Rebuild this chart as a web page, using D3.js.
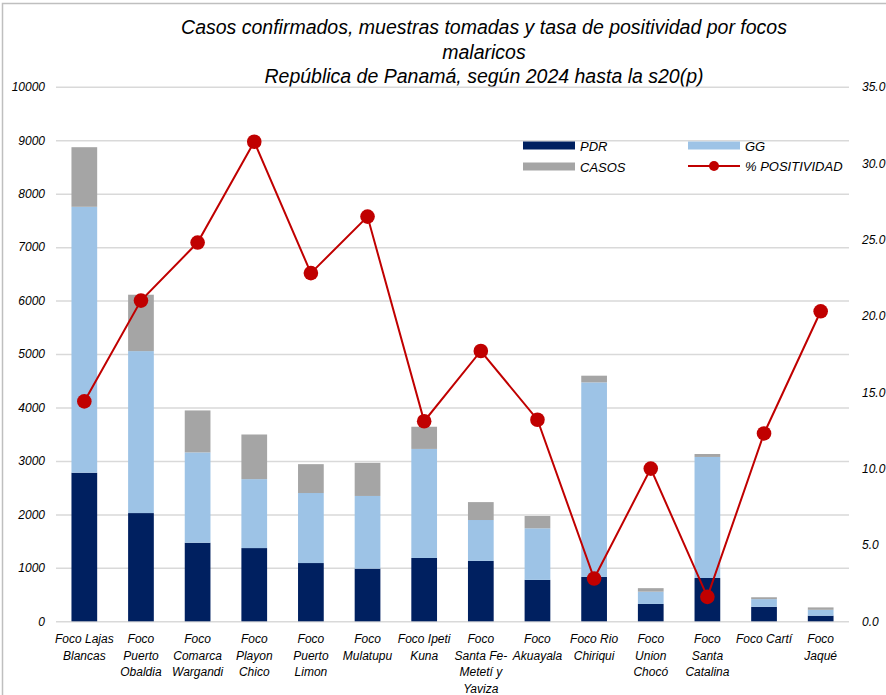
<!DOCTYPE html>
<html>
<head>
<meta charset="utf-8">
<script src="https://cdn.jsdelivr.net/npm/d3@7"></script>
<style>
  body { margin: 0; background: #fff; }
  text { font-family: "Liberation Sans", Arial, sans-serif; font-style: italic; fill: #000; }
</style>
</head>
<body>
<script>
// category labels (already wrapped like the original)
var focos = [
  ["Foco Lajas", "Blancas"],
  ["Foco", "Puerto", "Obaldia"],
  ["Foco", "Comarca", "Wargandi"],
  ["Foco", "Playon", "Chico"],
  ["Foco", "Puerto", "Limon"],
  ["Foco", "Mulatupu"],
  ["Foco Ipeti", "Kuna"],
  ["Foco", "Santa Fe-", "Metetí y", "Yaviza"],
  ["Foco", "Akuayala"],
  ["Foco Rio", "Chiriqui"],
  ["Foco", "Union", "Chocó"],
  ["Foco", "Santa", "Catalina"],
  ["Foco Cartí"],
  ["Foco", "Jaqué"]
];

var pdr   = [2780, 2025, 1470, 1370, 1090, 985, 1185, 1130, 775, 830, 325, 810, 270, 105];
var gg    = [4975, 3030, 1690, 1290, 1310, 1360, 2040, 765, 965, 3640, 230, 2265, 145, 110];
var casos = [1115, 1055, 785, 835, 540, 620, 415, 335, 230, 125, 65, 55, 35, 45];
var positividad = [14.4, 21.0, 24.8, 31.4, 22.8, 26.5, 13.1, 17.7, 13.2, 2.8, 10.0, 1.6, 12.3, 20.3];

var leftTicks = d3.range(0, 10001, 1000);
var rightTicks = d3.range(0, 35.1, 5);

var titleLines = [
  "Casos confirmados, muestras tomadas y  tasa de positividad por focos",
  "malaricos",
  "República de Panamá, según 2024 hasta la s20(p)"
];

// size of the picture
var w = 886;
var h = 695;
var plotLeft = 56, plotRight = 849, plotTop = 86.8, plotBottom = 621.3;

var svg = d3.select("body").append("svg").attr("width", w).attr("height", h);

// chart border (only top and left show)
svg.append("rect").attr("x", 2.5).attr("y", 3.5).attr("width", w + 10).attr("height", h + 10)
  .attr("fill", "none").attr("stroke", "#bfbfbf").attr("stroke-width", 1.5);

// title
svg.append("g").selectAll("text").data(titleLines).enter()
  .append("text")
  .attr("x", 484)
  .attr("y", function(d, i) { return 34 + i * 24.5; })
  .attr("text-anchor", "middle")
  .style("font-size", "19.5px")
  .text(function(d) { return d; });

var x = d3.scaleBand().domain(d3.range(focos.length)).range([plotLeft, plotRight])
  .paddingInner(0.546).paddingOuter(0.273);
var y = d3.scaleLinear().domain([0, 10000]).range([plotBottom, plotTop]);
var y2 = d3.scaleLinear().domain([0, 35]).range([plotBottom, plotTop]);

// gridlines + left axis
var gLeft = svg.append("g").attr("transform", "translate(" + plotLeft + ",0)")
  .call(d3.axisLeft(y).tickValues(leftTicks).tickSize(-(plotRight - plotLeft)).tickPadding(11)
    .tickFormat(d3.format("d")));
gLeft.select(".domain").remove();
gLeft.selectAll("line").attr("stroke", "#d9d9d9").attr("stroke-width", 1.5);
gLeft.selectAll("text").style("font-size", "12px").attr("fill", "#000");

// right axis
var gRight = svg.append("g").attr("transform", "translate(" + plotRight + ",0)")
  .call(d3.axisRight(y2).tickValues(rightTicks).tickSize(0).tickPadding(13)
    .tickFormat(d3.format(".1f")));
gRight.select(".domain").remove();
gRight.selectAll("text").style("font-size", "12px").attr("fill", "#000");

// stacked bars
var table = focos.map(function(d, i) {
  return { i: i, PDR: pdr[i], GG: gg[i], CASOS: casos[i] };
});
var keys = ["PDR", "GG", "CASOS"];
var colors = { PDR: "#002060", GG: "#9dc3e6", CASOS: "#a5a5a5" };
var series = d3.stack().keys(keys)(table);

svg.append("g").selectAll("g").data(series).enter()
  .append("g").attr("fill", function(d) { return colors[d.key]; })
  .selectAll("rect").data(function(d) { return d; }).enter()
  .append("rect")
  .attr("x", function(d) { return x(d.data.i); })
  .attr("width", x.bandwidth())
  .attr("y", function(d) { return y(d[1]); })
  .attr("height", function(d) { return y(d[0]) - y(d[1]); });

// positivity line
var line = d3.line()
  .x(function(d, i) { return x(i) + x.bandwidth() / 2; })
  .y(function(d) { return y2(d); });
svg.append("path").datum(positividad).attr("d", line)
  .attr("fill", "none").attr("stroke", "#c00000").attr("stroke-width", 2);
svg.append("g").selectAll("circle").data(positividad).enter()
  .append("circle")
  .attr("cx", function(d, i) { return x(i) + x.bandwidth() / 2; })
  .attr("cy", function(d) { return y2(d); })
  .attr("r", 7.3)
  .attr("fill", "#c00000");

// category labels
svg.append("g").selectAll("text").data(focos).enter()
  .append("text")
  .attr("text-anchor", "middle")
  .style("font-size", "12px")
  .attr("transform", function(d, i) { return "translate(" + (x(i) + x.bandwidth() / 2) + ",643)"; })
  .selectAll("tspan").data(function(d) { return d; }).enter()
  .append("tspan")
  .attr("x", 0)
  .attr("y", function(d, j) { return j * 16.5; })
  .text(function(d) { return d; });

// legend
var legend = svg.append("g");
var legendItems = [
  { label: "PDR", key: "PDR", lx: 523, ly: 141.5 },
  { label: "GG", key: "GG", lx: 688, ly: 141.5 },
  { label: "CASOS", key: "CASOS", lx: 523, ly: 162.5 }
];
legend.selectAll("rect").data(legendItems).enter()
  .append("rect")
  .attr("x", function(d) { return d.lx; })
  .attr("y", function(d) { return d.ly; })
  .attr("width", 52).attr("height", 8)
  .attr("fill", function(d) { return colors[d.key]; });
legend.selectAll("text.item").data(legendItems).enter()
  .append("text").attr("class", "item")
  .attr("x", function(d) { return d.lx + 57; })
  .attr("y", function(d) { return d.ly + 9.5; })
  .style("font-size", "13px")
  .text(function(d) { return d.label; });
legend.append("line").attr("x1", 688).attr("x2", 740).attr("y1", 166).attr("y2", 166)
  .attr("stroke", "#c00000").attr("stroke-width", 2);
legend.append("circle").attr("cx", 714).attr("cy", 166).attr("r", 5).attr("fill", "#c00000");
legend.append("text").attr("x", 745).attr("y", 171).style("font-size", "13px").text("% POSITIVIDAD");
</script>
</body>
</html>
